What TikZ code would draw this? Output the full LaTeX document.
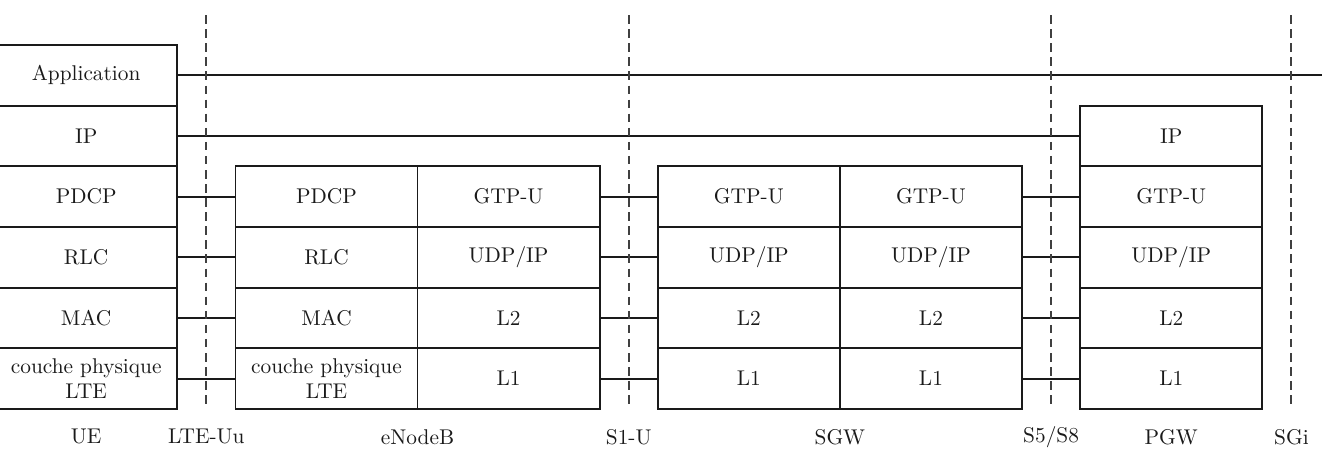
\documentclass[tikz,border=0pt]{standalone}
\usetikzlibrary{calc,positioning}
\definecolor{ink}{HTML}{1A1A1A}
\definecolor{muted}{HTML}{404040}
\tikzset{every node/.style={text=ink},
  cell/.style={draw=ink,line width=.9pt,minimum width=3cm,minimum height=1cm,inner sep=0pt,align=center},
  sep/.style={draw=muted,dash pattern=on 4pt off 2.6pt,line width=.9pt},
  link/.style={draw=ink,line width=.9pt}}

\begin{document}
\begin{tikzpicture}[line width=.9pt]
\useasboundingbox(0,-.76)rectangle(21.85,6.74);
% piles de protocoles
\foreach \t [count=\i from 0] in {{couche physique\\LTE},MAC,RLC,PDCP,IP,Application}{\node[cell](ue-\i)at(1.42,\i+.5){\t};}
\foreach \t [count=\i from 0] in {{couche physique\\LTE},MAC,RLC,PDCP}{\node[cell](enbl-\i)at(5.38,\i+.5){\t};}
\foreach \t [count=\i from 0] in {L1,L2,UDP/IP,GTP-U}{\node[cell](enbr-\i)at(8.38,\i+.5){\t};
  \node[cell](sgwl-\i)at(12.34,\i+.5){\t};\node[cell](sgwr-\i)at(15.34,\i+.5){\t};}
\foreach \t [count=\i from 0] in {L1,L2,UDP/IP,GTP-U,IP}{\node[cell](pgw-\i)at(19.3,\i+.5){\t};}
% liaisons entre couches
\foreach \i in {0,...,3}{\draw[link](ue-\i.east)--(enbl-\i.west);\draw[link](enbr-\i.east)--(sgwl-\i.west);
  \draw[link](sgwr-\i.east)--(pgw-\i.west);}
\coordinate(app-end)at(21.78,5.5);
\draw[link](ue-5.east)--(app-end);\draw[link](ue-4.east)--(pgw-4.west);
% interfaces
\foreach \x/\n/\t in {3.4/uu/LTE-Uu,10.36/s1u/S1-U,17.32/s5/{S5/S8},21.28/sgi/SGi}{\coordinate(\n-top)at(\x,6.49);
  \node(\n)at(\x,-.46){\t};\draw[sep](\n-top)--(\n-top|-0,0);}
\node(ue)at(1.42,-.46){UE};\node(enb)at(6.88,-.46){eNodeB};
\node(sgw)at(13.84,-.46){SGW};\node(pgw)at(19.3,-.46){PGW};
\end{tikzpicture}
\end{document}
